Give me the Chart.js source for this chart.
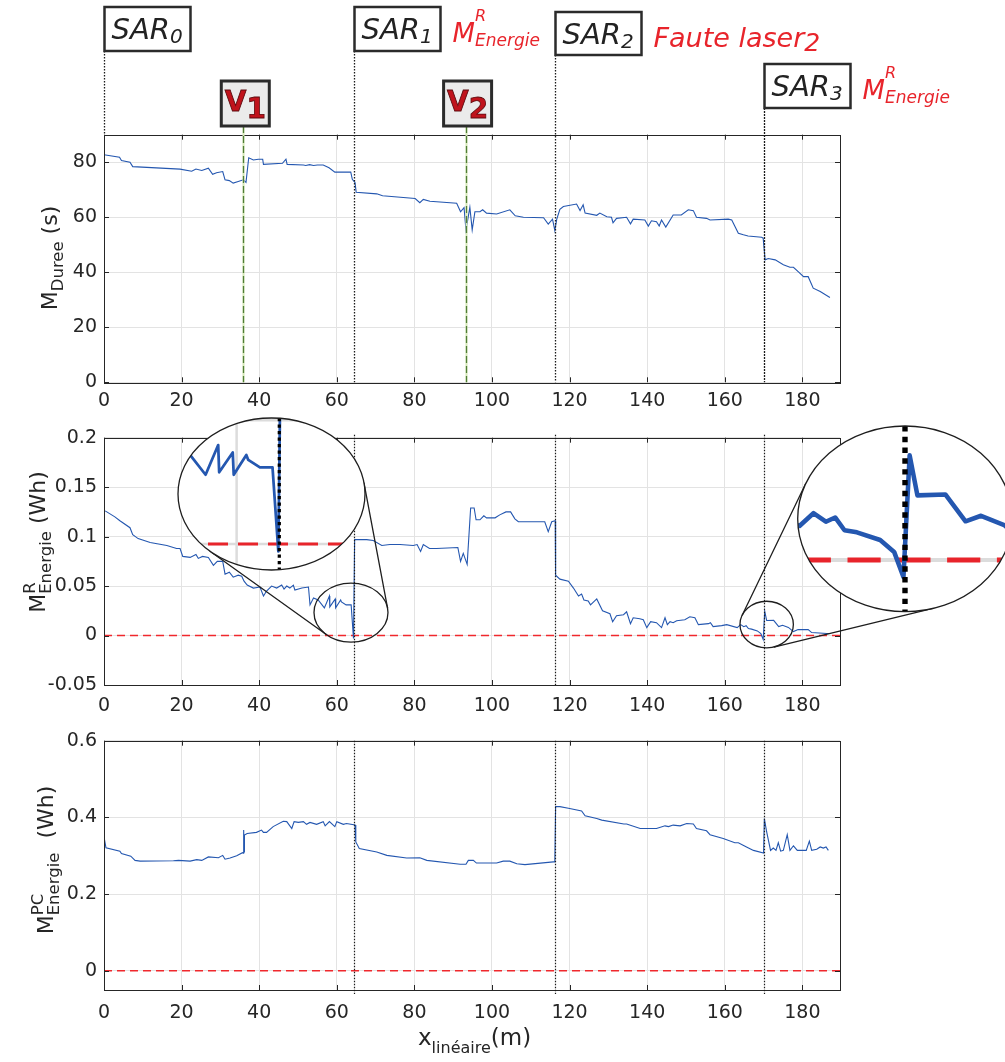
<!DOCTYPE html>
<html>
<head>
<meta charset="utf-8">
<script src="https://cdn.jsdelivr.net/npm/chart.js@4"></script>
<style>
  html, body { margin: 0; padding: 0; background: #fff; }
  body { width: 1005px; height: 1062px; position: relative; overflow: hidden; }
  canvas { position: absolute; left: 0; }
</style>
</head>
<body>
<canvas id="cDuree" width="1005" height="415" style="top:0px"></canvas>
<canvas id="cEnergieR" width="1005" height="300" style="top:415px"></canvas>
<canvas id="cEnergiePC" width="1005" height="347" style="top:715px"></canvas>
<script>
// ---- data ----
const X_TICKS = [0, 20, 40, 60, 80, 100, 120, 140, 160, 180];
const X_MAX = 189.7;
const DUREE_TICKS = [0, 20, 40, 60, 80];
const ENERGIE_R_TICKS = [-0.05, 0, 0.05, 0.1, 0.15, 0.2];
const ENERGIE_PC_TICKS = [0, 0.2, 0.4, 0.6];

const SAR_X = [0, 64.4, 116.3, 170];
const SAR_NAMES = ['0', '1', '2', '3'];
const V_X = [35.9, 93.2];
const V_NAMES = ['1', '2'];

// M_Duree (s)
const DUREE = [[0,82.7],[4,81.8],[4.5,80.6],[6.7,80],[7.4,78.4],[19.6,77.5],[22.6,76.7],[23.7,77.5],[25.2,77],
  [26.9,77.8],[28,75.6],[29,76.2],[30.6,76.6],[31.2,73.6],[32.3,73.3],[33.3,72.4],[34.6,73],[35.9,73.6],[36.6,72.7],
  [37.3,81.6],[38.5,80.8],[39.8,81.1],[40.9,81.1],[41.1,79.2],[46,79.6],[46.9,81.1],[47.2,79.2],[51.4,79],[52,78.8],
  [53,79.1],[54,78.8],[55,79],[56.5,79],[58,78],[59.5,76.4],[63.6,76.4],[64,73.8],[64.7,72.6],[65,69.1],[70.3,68.5],
  [71.8,67.8],[80.2,66.8],[81.4,65.3],[82.3,66.5],[84,65.8],[90.9,65.1],[91.9,62],[92.8,63.5],[93.3,55.4],[94.3,63.6],
  [94.9,55.4],[95.6,62],[96.9,62],[97.6,62.7],[98.6,61.5],[101.2,61.2],[104.6,62.7],[106,60.5],[108.1,60],[113.3,59.8],
  [114.5,57.5],[115.6,59.3],[116.2,55.2],[116.7,59.3],[117.5,62.9],[118.4,63.9],[121.8,64.8],[122.7,62.4],[123.5,64.5],
  [124,61.5],[127,60.7],[127.8,61.5],[129.6,60.2],[130.8,60],[131.2,58],[132.1,59.6],[134.7,60],[135.7,57.6],[136.4,59.3],
  [139.4,59],[140.3,56.8],[141.1,58.7],[142.4,58.4],[143.1,56.8],[143.7,59],[144.8,56.4],[146.7,60.8],[148.8,60.8],
  [150.6,62.7],[151.9,62.4],[152.7,60],[155.3,59.6],[156.2,59],[160.9,59.3],[161.8,59],[163.5,54.2],[164.8,53.6],
  [166,53.2],[169.5,52.7],[169.9,52.4],[170.4,44.5],[171.2,45],[173,44.5],[175.1,42.7],[176.8,41.8],[177.7,41.8],
  [179.2,39.9],[180.3,38.4],[181.5,38.4],[182.8,34.2],[184.6,33],[187.1,30.8]];

// M^R_Energie (Wh)
const ENERGIE_R = [[0.3,0.126],[2.8,0.120],[4.1,0.116],[6.7,0.109],[7.4,0.102],[8.8,0.098],[11.9,0.094],[16.2,0.091],
  [18.7,0.088],[19.6,0.088],[20.3,0.080],[22.2,0.079],[23.7,0.082],[24.3,0.078],[25.4,0.080],[26.9,0.079],[28.2,0.071],
  [29.2,0.075],[30.6,0.075],[31.2,0.062],[32.3,0.064],[33.3,0.059],[34.6,0.061],[35.5,0.060],[36.1,0.055],[36.9,0.051],
  [38.5,0.048],[40.2,0.049],[41.1,0.040],[41.9,0.045],[43.2,0.050],[44.5,0.048],[45.8,0.051],[46.4,0.047],[47.1,0.050],
  [47.9,0.048],[48.8,0.051],[49.2,0.046],[51,0.048],[52.7,0.049],[53.1,0.031],[54,0.038],[55.2,0.036],[56.8,0.028],
  [58.1,0.040],[58.2,0.029],[59.6,0.037],[59.7,0.028],[61,0.036],[61.2,0.034],[62.4,0.031],[63.7,0.031],[64.3,-0.003],
  [64.6,0.097],[67.7,0.097],[69.4,0.096],[71.6,0.091],[73.7,0.092],[76.3,0.092],[79.7,0.091],[80.7,0.092],[81.6,0.085],
  [82.3,0.092],[83.9,0.088],[85.7,0.088],[91.2,0.089],[91.9,0.075],[92.6,0.083],[93.6,0.072],[94.5,0.129],[95.4,0.129],
  [95.9,0.117],[96.9,0.117],[97.9,0.121],[98.6,0.119],[100.8,0.119],[102,0.122],[103.6,0.125],[104.8,0.125],[105.9,0.118],
  [106.8,0.115],[108,0.115],[109.8,0.115],[113.6,0.115],[114.5,0.105],[115.4,0.115],[116.3,0.116],[116.4,0.061],
  [117.5,0.057],[119.7,0.055],[121,0.048],[122.3,0.040],[123.1,0.042],[123.7,0.036],[124.8,0.035],[125.4,0.031],
  [127,0.037],[128.5,0.025],[130.4,0.022],[131.1,0.014],[132.1,0.020],[133.9,0.021],[134.7,0.024],[135.7,0.012],
  [136.4,0.018],[138.1,0.017],[139,0.016],[139.9,0.008],[140.9,0.014],[142.4,0.013],[143.7,0.008],[144.6,0.018],
  [145.2,0.011],[145.9,0.014],[146.7,0.013],[147.6,0.015],[149.7,0.016],[151,0.019],[152.3,0.018],[153.2,0.011],
  [155.8,0.012],[156.3,0.013],[157,0.009],[159.2,0.010],[160.5,0.011],[163.2,0.008],[164.1,0.011],[164.9,0.009],
  [165.5,0.010],[166.1,0.007],[166.9,0.0065],[168.4,0.0047],[169.3,0.0019],[169.9,-0.004],[170.3,0.0246],[170.8,0.0152],
  [172.6,0.0154],[173.9,0.0091],[174.9,0.0104],[176.4,0.0082],[177.7,0.004],[178.9,0.006],[181.5,0.006],[182.4,0.003],
  [186.3,0.002],[187.1,0.002]];

// M^PC_Energie (Wh)
const ENERGIE_PC = [[0,0.349],[0.5,0.321],[4.1,0.312],[4.5,0.306],[6.9,0.299],[8,0.288],[9.3,0.286],[17.9,0.287],
  [19.2,0.288],[22.2,0.286],[23.9,0.290],[25.2,0.288],[26.9,0.297],[29.5,0.295],[30.6,0.301],[31.2,0.291],[32.5,0.294],
  [34.2,0.300],[35.7,0.308],[35.9,0.307],[36,0.367],[36.1,0.31],[36.2,0.354],[36.9,0.358],[39.3,0.361],[40.6,0.367],
  [41.1,0.361],[41.9,0.361],[43.6,0.376],[46.2,0.39],[47.1,0.389],[48.4,0.371],[49,0.389],[50.1,0.387],[51.4,0.389],
  [52.2,0.382],[53.1,0.387],[54.8,0.382],[56.5,0.389],[57,0.378],[58.1,0.389],[59.5,0.376],[60,0.389],[61.7,0.382],
  [62.5,0.384],[64.7,0.38],[64.9,0.336],[65.8,0.319],[70.3,0.31],[72.9,0.301],[78,0.294],[81.4,0.295],[83.2,0.288],
  [91.8,0.278],[93.3,0.278],[93.9,0.288],[95.2,0.288],[96,0.281],[101.2,0.281],[102.9,0.286],[104.6,0.286],[106.4,0.279],
  [108.5,0.277],[115.8,0.284],[116.2,0.284],[116.4,0.428],[117.5,0.428],[119.7,0.424],[123.1,0.417],[124,0.404],
  [127,0.397],[128.3,0.393],[134,0.383],[134.7,0.383],[138.2,0.371],[142.4,0.371],[144.6,0.378],[145.5,0.376],
  [146.7,0.380],[148.5,0.378],[150.2,0.384],[151.9,0.383],[152.7,0.371],[155.3,0.365],[156.2,0.355],[159.6,0.345],
  [162.6,0.334],[163.5,0.334],[165.6,0.323],[167.4,0.314],[170,0.307],[170.2,0.397],[170.8,0.362],[171.8,0.314],
  [172.5,0.320],[173.2,0.314],[173.8,0.334],[174.4,0.312],[175.1,0.314],[176.1,0.355],[176.8,0.314],[177.7,0.326],
  [178.7,0.314],[181,0.314],[181.8,0.338],[182.4,0.314],[183.7,0.317],[184.6,0.323],[185.4,0.320],[186.1,0.323],
  [186.7,0.314]];

// ---- look ----
const FONT = 'DejaVu Sans';
const INK = '#262626';
const BLUE = '#2457b0';
const RED = '#e8242b';
const GRID = '#e3e3e3';
const PLOT_LEFT = 104, PLOT_RIGHT = 840;

function fontOf(q) {
  return (q.style || 'normal') + ' ' + (q.weight || 'normal') + ' ' + q.size + 'px "' + FONT + '"';
}

// draws text runs with sub/superscripts; a run with .stack draws its items on top of each other
function drawRich(ctx, x, y, runs, align) {
  ctx.textAlign = 'left';
  ctx.textBaseline = 'alphabetic';
  const widths = runs.map(r => Math.max(...(r.stack || [r]).map(q => {
    ctx.font = fontOf(q);
    return ctx.measureText(q.t).width;
  })));
  const total = widths.reduce((a, b) => a + b, 0);
  let cx = align === 'center' ? x - total / 2 : x;
  runs.forEach((r, i) => {
    (r.stack || [r]).forEach(q => {
      ctx.font = fontOf(q);
      ctx.fillStyle = q.color || INK;
      ctx.fillText(q.t, cx, y + (q.dy || 0));
      if (q.outline) {
        ctx.lineWidth = 0.8;
        ctx.strokeStyle = q.outline;
        ctx.strokeText(q.t, cx, y + (q.dy || 0));
      }
    });
    cx += widths[i];
  });
}

function drawRotated(ctx, x, y, runs) {
  ctx.save();
  ctx.translate(x, y);
  ctx.rotate(-Math.PI / 2);
  drawRich(ctx, 0, 0, runs, 'center');
  ctx.restore();
}

function vline(ctx, x, y0, y1, color, width, dash) {
  ctx.save();
  ctx.strokeStyle = color;
  ctx.lineWidth = width;
  ctx.setLineDash(dash || []);
  ctx.beginPath();
  ctx.moveTo(x, y0);
  ctx.lineTo(x, y1);
  ctx.stroke();
  ctx.restore();
}

// box with inward ticks, like the original axes
const framePlugin = {
  id: 'frame',
  afterDatasetsDraw(chart) {
    const { ctx, chartArea: a, scales } = chart;
    ctx.save();
    ctx.strokeStyle = INK;
    ctx.lineWidth = 1;
    ctx.beginPath();
    X_TICKS.forEach(v => {
      const px = Math.round(scales.x.getPixelForValue(v)) + 0.5;
      ctx.moveTo(px, a.bottom); ctx.lineTo(px, a.bottom - 5);
      ctx.moveTo(px, a.top); ctx.lineTo(px, a.top + 5);
    });
    scales.y.ticks.forEach(t => {
      const py = Math.round(scales.y.getPixelForValue(t.value)) + 0.5;
      ctx.moveTo(a.left, py); ctx.lineTo(a.left + 5, py);
      ctx.moveTo(a.right, py); ctx.lineTo(a.right - 5, py);
    });
    ctx.stroke();
    ctx.strokeRect(Math.round(a.left) + 0.5, Math.round(a.top) + 0.5,
      Math.round(a.right - a.left), Math.round(a.bottom - a.top));
    ctx.restore();
  }
};

// axis titles are drawn by hand because of the sub/superscripts
function yTitlePlugin(x, y, runs) {
  return { id: 'ytitle', afterDraw(chart) { drawRotated(chart.ctx, x, y, runs); } };
}

// dotted SAR markers through the lower panels
function sarPlugin(dTop, dBottom) {
  return {
    id: 'sar',
    afterDatasetsDraw(chart) {
      const { ctx, chartArea: a, scales } = chart;
      SAR_X.slice(1).forEach(v => {
        const px = Math.round(scales.x.getPixelForValue(v)) + 0.5;
        vline(ctx, px, a.top - dTop, a.bottom + dBottom, '#1a1a1a', 1.2, [1.5, 1.5]);
      });
    }
  };
}

function buildChart(id, series, cfg, plugins) {
  const datasets = [{
    data: series.map(p => ({ x: p[0], y: p[1] })),
    borderColor: BLUE, borderWidth: 1.1, pointRadius: 0, tension: 0
  }];
  if (cfg.zero) {
    datasets.push({
      data: [{ x: 0, y: 0 }, { x: X_MAX, y: 0 }],
      borderColor: '#f0282d', borderWidth: 1.4, borderDash: [8, 5], pointRadius: 0
    });
  }
  const tickFont = { family: FONT, size: 19, lineHeight: 1 };
  return new Chart(document.getElementById(id), {
    type: 'line',
    data: { datasets },
    options: {
      animation: false,
      responsive: false,
      devicePixelRatio: 1,
      layout: { padding: { left: 0, right: 1005 - PLOT_RIGHT, top: cfg.top, bottom: 0 } },
      plugins: { legend: { display: false }, tooltip: { enabled: false } },
      scales: {
        x: {
          type: 'linear', min: 0, max: X_MAX,
          afterBuildTicks: s => { s.ticks = X_TICKS.map(v => ({ value: v })); },
          afterFit: s => { s.height = cfg.xh; },
          grid: { color: GRID, drawTicks: false },
          border: { display: false },
          ticks: { font: tickFont, color: INK, padding: cfg.xpad, maxRotation: 0, autoSkip: false,
                   callback: v => String(v) }
        },
        y: {
          type: 'linear', min: cfg.min, max: cfg.max,
          afterBuildTicks: s => { s.ticks = cfg.ticks.map(v => ({ value: v })); },
          afterFit: s => { s.width = PLOT_LEFT; },
          grid: { color: GRID, drawTicks: false },
          border: { display: false },
          ticks: { font: tickFont, color: INK, padding: 7, autoSkip: false,
                   callback: v => String(Math.round(v * 1000) / 1000) }
        }
      }
    },
    plugins: [framePlugin].concat(plugins)
  });
}

// ---- top panel annotations: SAR boxes, notes, V markers ----
const SAR_BOX = [{ top: 7, h: 44 }, { top: 7, h: 44 }, { top: 12, h: 43 }, { top: 64, h: 44 }];
const noteEnergie = [
  { t: 'M', size: 26, style: 'italic', color: RED },
  { stack: [{ t: 'R', size: 16, style: 'italic', color: RED, dy: -21 },
            { t: 'Energie', size: 17, style: 'italic', color: RED, dy: 4 }] }
];
const SAR_NOTES = [null, noteEnergie,
  [{ t: 'Faute laser', size: 27, style: 'italic', color: RED },
   { t: '2', size: 25, style: 'italic', color: RED, dy: 4 }],
  noteEnergie];

const topPlugin = {
  id: 'topNotes',
  afterDatasetsDraw(chart) {
    const { ctx, chartArea: a, scales } = chart;
    // green dashed V markers
    V_X.forEach(v => {
      const px = Math.round(scales.x.getPixelForValue(v)) + 0.5;
      vline(ctx, px, 126, a.bottom, '#d6e8b8', 2);
      vline(ctx, px, 126, a.bottom, '#4f7d35', 1.3, [7, 3]);
    });
    // SAR markers
    SAR_X.forEach((v, i) => {
      const px = Math.round(scales.x.getPixelForValue(v)) + 0.5;
      const b = SAR_BOX[i];
      const y1 = i === 0 ? a.top : a.bottom;
      vline(ctx, px, b.top + b.h, y1, '#1a1a1a', 1.3, i === 3 ? [2, 1] : [1.5, 1.5]);
      ctx.save();
      ctx.fillStyle = '#fff';
      ctx.strokeStyle = '#2b2b2b';
      ctx.lineWidth = 2.5;
      ctx.fillRect(px, b.top, 86, b.h);
      ctx.strokeRect(px, b.top, 86, b.h);
      drawRich(ctx, px + 7, b.top + 32, [
        { t: 'SAR', size: 29, style: 'italic', color: '#222' },
        { t: SAR_NAMES[i], size: 20, style: 'italic', color: '#222', dy: 4 }
      ]);
      if (SAR_NOTES[i]) drawRich(ctx, px + 86 + 12, b.top + 35, SAR_NOTES[i]);
      ctx.restore();
    });
    // V boxes
    V_X.forEach((v, i) => {
      const px = scales.x.getPixelForValue(v);
      ctx.save();
      ctx.fillStyle = '#ebebeb';
      ctx.strokeStyle = '#2b2b2b';
      ctx.lineWidth = 3;
      ctx.fillRect(px - 22, 81, 48, 45);
      ctx.strokeRect(px - 22, 81, 48, 45);
      drawRich(ctx, px + 2, 111, [
        { t: 'V', size: 28, weight: 'bold', color: '#c0131c', outline: '#5a0a0d' },
        { t: V_NAMES[i], size: 28, weight: 'bold', color: '#c0131c', outline: '#5a0a0d', dy: 7 }
      ], 'center');
      ctx.restore();
    });
  }
};

// ---- magnifier insets of the middle panel ----
function ellipsePath(ctx, e) {
  ctx.beginPath();
  ctx.ellipse(e.cx, e.cy, e.rx, e.ry, 0, 0, Math.PI * 2);
}

// outer common tangents of two ellipses, from support functions
function tangents(e1, e2) {
  const h = (e, c, s) => e.cx * c + e.cy * s + Math.hypot(e.rx * c, e.ry * s);
  const f = t => h(e1, Math.cos(t), Math.sin(t)) - h(e2, Math.cos(t), Math.sin(t));
  const touch = (e, t) => {
    const c = Math.cos(t), s = Math.sin(t), d = Math.hypot(e.rx * c, e.ry * s);
    return [e.cx + e.rx * e.rx * c / d, e.cy + e.ry * e.ry * s / d];
  };
  const out = [];
  const N = 720;
  for (let i = 0; i < N; i++) {
    let lo = i / N * 2 * Math.PI, hi = (i + 1) / N * 2 * Math.PI;
    if (f(lo) * f(hi) > 0) continue;
    for (let k = 0; k < 40; k++) {
      const mid = (lo + hi) / 2;
      if (f(lo) * f(mid) <= 0) hi = mid; else lo = mid;
    }
    out.push([touch(e1, lo), touch(e2, lo)]);
  }
  return out;
}

const INSETS = [
  { anchor: [64.4, 0], dst: [279.3, 129], kx: 2.5, ky: 2.5,
    lens: [63.66, 0.0232], lensR: [37, 29.5],
    big: { cx: 271.5, cy: 79, rx: 93.5, ry: 76 }, sar: 64.4 },
  { anchor: [170, 0], dst: [905, 145], kx: 4, ky: 4.3,
    lens: [170.8, 0.0111], lensR: [26.7, 23.3],
    big: { cx: 905, cy: 103.8, rx: 107.3, ry: 92.8 }, sar: 170 }
];

const insetPlugin = {
  id: 'insets',
  afterDraw(chart) {
    const { ctx, scales } = chart;
    const xs = scales.x, ys = scales.y;
    INSETS.forEach(s => {
      const ax = xs.getPixelForValue(s.anchor[0]), ay = ys.getPixelForValue(s.anchor[1]);
      const mx = v => s.dst[0] + s.kx * (xs.getPixelForValue(v) - ax);
      const my = v => s.dst[1] + s.ky * (ys.getPixelForValue(v) - ay);
      const k = (s.kx + s.ky) / 2;
      const lens = { cx: xs.getPixelForValue(s.lens[0]), cy: ys.getPixelForValue(s.lens[1]),
                     rx: s.lensR[0], ry: s.lensR[1] };
      ctx.save();
      ctx.strokeStyle = '#1e1e1e';
      ctx.lineWidth = 1.3;
      ellipsePath(ctx, lens);
      ctx.stroke();
      ctx.beginPath();
      tangents(lens, s.big).forEach(([p, q]) => { ctx.moveTo(p[0], p[1]); ctx.lineTo(q[0], q[1]); });
      ctx.stroke();
      // magnified content
      ellipsePath(ctx, s.big);
      ctx.fillStyle = '#fff';
      ctx.fill();
      ctx.save();
      ellipsePath(ctx, s.big);
      ctx.clip();
      ctx.strokeStyle = '#dcdcdc';
      ctx.lineWidth = k;
      ctx.beginPath();
      X_TICKS.forEach(v => { ctx.moveTo(mx(v), s.big.cy - s.big.ry); ctx.lineTo(mx(v), s.big.cy + s.big.ry); });
      ENERGIE_R_TICKS.forEach(v => { ctx.moveTo(s.big.cx - s.big.rx, my(v)); ctx.lineTo(s.big.cx + s.big.rx, my(v)); });
      ctx.stroke();
      ctx.strokeStyle = RED;
      ctx.lineWidth = 1.15 * k;
      ctx.setLineDash([8 * k, 4 * k]);
      ctx.beginPath();
      ctx.moveTo(s.big.cx - s.big.rx, my(0));
      ctx.lineTo(s.big.cx + s.big.rx, my(0));
      ctx.stroke();
      ctx.setLineDash([]);
      ctx.strokeStyle = BLUE;
      ctx.lineWidth = 1.1 * k;
      ctx.lineJoin = 'round';
      ctx.beginPath();
      ENERGIE_R.forEach((p, i) => {
        const px = mx(p[0]), py = my(p[1]);
        if (i === 0) ctx.moveTo(px, py); else ctx.lineTo(px, py);
      });
      ctx.stroke();
      ctx.strokeStyle = '#000';
      ctx.lineWidth = 1.3 * k;
      ctx.setLineDash([1.3 * k, 1.3 * k]);
      ctx.beginPath();
      ctx.moveTo(mx(s.sar), s.big.cy - s.big.ry);
      ctx.lineTo(mx(s.sar), s.big.cy + s.big.ry);
      ctx.stroke();
      ctx.restore();
      ctx.strokeStyle = '#1e1e1e';
      ctx.lineWidth = 1.3;
      ctx.setLineDash([]);
      ellipsePath(ctx, s.big);
      ctx.stroke();
      ctx.restore();
    });
  }
};

const xTitlePlugin = {
  id: 'xtitle',
  afterDraw(chart) {
    drawRich(chart.ctx, 418, 330, [
      { t: 'x', size: 23 },
      { t: 'linéaire', size: 16, dy: 8 },
      { t: '(m)', size: 23 }
    ]);
  }
};

const subLabel = (sup, sub, gap) => {
  const runs = [{ t: 'M', size: 22 }];
  if (sup) runs.push({ stack: [{ t: sup, size: 16.5, dy: -10 }, { t: sub, size: 16.5, dy: 6 }] });
  else runs.push({ t: sub, size: 16.5, dy: 6 });
  runs.push({ t: (gap ? '  ' : ' ') + '(' + (sup ? 'Wh' : 's') + ')', size: 22 });
  return runs;
};

buildChart('cDuree', DUREE,
  { min: 0, max: 90, ticks: DUREE_TICKS, top: 134.7, xh: 415 - 382.3, xpad: 9, },
  [topPlugin, yTitlePlugin(57, 258, subLabel(null, 'Duree'))]);

buildChart('cEnergieR', ENERGIE_R,
  { min: -0.05, max: 0.2, ticks: ENERGIE_R_TICKS, top: 22.7, xh: 30, xpad: 12, zero: true },
  [sarPlugin(3, 0), yTitlePlugin(45, 127, subLabel('R', 'Energie')), insetPlugin]);

buildChart('cEnergiePC', ENERGIE_PC,
  { min: -0.05, max: 0.6, ticks: ENERGIE_PC_TICKS, top: 25.7, xh: 72, xpad: 14, zero: true },
  [sarPlugin(0, 4), yTitlePlugin(53, 145, subLabel('PC', 'Energie', true)), xTitlePlugin]);
</script>
</body>
</html>
